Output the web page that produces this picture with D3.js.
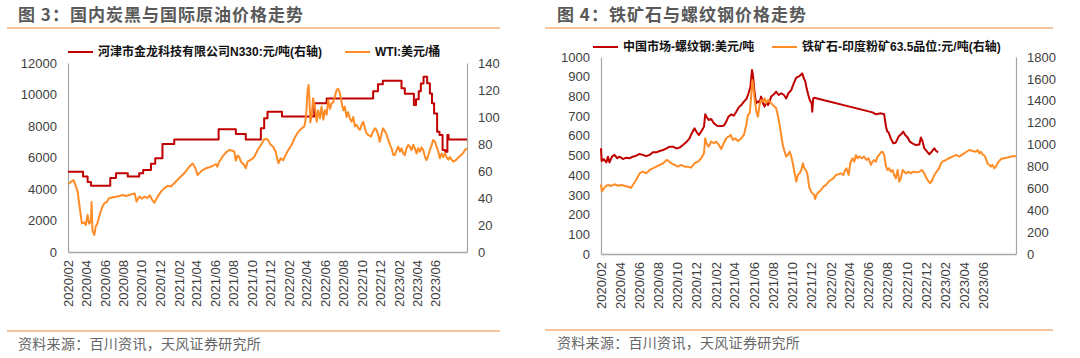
<!DOCTYPE html>
<html><head><meta charset="utf-8">
<script src="https://cdn.jsdelivr.net/npm/d3@7"></script>
<style>body{margin:0;background:#fff}svg{display:block}</style>
</head><body>
<svg id="c" width="1080" height="358"></svg>
<script>
// ---------- data ----------
const xTickLabels = ["2020/02","2020/04","2020/06","2020/08","2020/10","2020/12","2021/02","2021/04","2021/06","2021/08","2021/10","2021/12","2022/02","2022/04","2022/06","2022/08","2022/10","2022/12","2023/02","2023/04","2023/06"];
const xDomain = ["2020-02-01","2023-09-15"];

const chart1Title = "图 3：国内炭黑与国际原油价格走势";
const chart2Title = "图 4：铁矿石与螺纹钢价格走势";
const sourceText = "资料来源：百川资讯，天风证券研究所";
const chart1Names = ["河津市金龙科技有限公司N330:元/吨(右轴)", "WTI:美元/桶"];
const chart2Names = ["中国市场-螺纹钢:美元/吨", "铁矿石-印度粉矿63.5品位:元/吨(右轴)"];

const chart1LeftTicks = [0,2000,4000,6000,8000,10000,12000];
const chart1RightTicks = [0,20,40,60,80,100,120,140];
const chart2LeftTicks = [0,100,200,300,400,500,600,700,800,900,1000];
const chart2RightTicks = [0,200,400,600,800,1000,1200,1400,1600,1800];

// N330 carbon black (drawn against left scale, step series)
const n330 = [["2020-02-01",5100],["2020-03-22",4800],["2020-04-06",4450],["2020-04-17",4200],["2020-06-20",4700],["2020-07-09",5000],["2020-08-17",4800],["2020-09-24",5000],["2020-10-07",5200],["2020-11-02",5600],["2020-11-16",5950],["2020-12-10",6850],["2021-01-18",7150],["2021-06-14",7800],["2021-08-10",7500],["2021-09-12",7150],["2021-11-01",7850],["2021-11-12",8500],["2021-11-23",8900],["2022-01-10",8600],["2022-04-27",9450],["2022-06-07",9750],["2022-11-08",10200],["2022-11-24",10650],["2022-12-10",10880],["2023-02-10",10400],["2023-02-21",10050],["2023-03-23",9330],["2023-03-30",9700],["2023-04-08",10200],["2023-04-15",10700],["2023-04-24",11130],["2023-05-06",10710],["2023-05-15",10070],["2023-05-22",9440],["2023-05-29",8800],["2023-06-08",7640],["2023-06-16",7430],["2023-06-26",6480],["2023-07-05",6370],["2023-07-12",7430],["2023-07-16",7150],["2023-09-15",7150]];

// WTI (right scale)
const wti = [["2020-02-03",50.4],["2020-02-11",52],["2020-02-19",53.3],["2020-02-25",50],["2020-03-04",44.7],["2020-03-09",36],["2020-03-15",26],["2020-03-18",21.2],["2020-03-26",22],["2020-03-31",20],["2020-04-06",27.4],["2020-04-11",21],["2020-04-17",23],["2020-04-19",37],["2020-04-22",16],["2020-04-28",12.6],["2020-05-03",19],["2020-05-08",21],["2020-05-14",26],["2020-05-19",29.9],["2020-05-25",33.6],["2020-05-31",36],["2020-06-08",37],["2020-06-16",39.8],["2020-06-28",40.5],["2020-07-09",41],["2020-07-20",41.5],["2020-07-31",42.2],["2020-08-11",41.5],["2020-08-22",42.2],["2020-09-02",43],["2020-09-09",43.4],["2020-09-15",37.3],["2020-09-24",41],["2020-10-03",39.5],["2020-10-11",41],["2020-10-22",40],["2020-10-29",42],["2020-11-05",39],["2020-11-13",36.5],["2020-11-24",41],["2020-12-05",44.7],["2020-12-16",47.2],["2020-12-27",49],["2021-01-07",48.5],["2021-01-18",50.9],["2021-02-03",54.6],["2021-02-20",58.3],["2021-03-09",63.2],["2021-03-20",65.6],["2021-03-29",62],["2021-04-05",57],["2021-04-13",58.8],["2021-04-22",60.7],["2021-05-03",62],["2021-05-14",62.8],["2021-05-25",63.7],["2021-06-05",65.2],["2021-06-10",63.2],["2021-06-16",66.9],["2021-06-27",70.6],["2021-07-08",73.6],["2021-07-19",75.5],["2021-07-30",75],["2021-08-05",74.3],["2021-08-10",67.7],["2021-08-16",71.4],["2021-08-21",70.4],["2021-08-27",66.9],["2021-09-07",64.4],["2021-09-12",62],["2021-09-18",66.9],["2021-09-29",68.4],["2021-10-10",70.4],["2021-10-21",75.5],["2021-11-01",79.3],["2021-11-12",83.5],["2021-11-21",83.7],["2021-11-26",82.5],["2021-12-03",79.5],["2021-12-12",78],["2021-12-20",74.3],["2021-12-29",65.7],["2022-01-06",69.4],["2022-01-14",68],["2022-01-22",71.8],["2022-01-31",75.5],["2022-02-11",79.3],["2022-02-22",85],["2022-03-05",89],["2022-03-16",91.6],["2022-03-25",93],["2022-03-29",97.8],["2022-04-01",105],["2022-04-05",120],["2022-04-08",123.7],["2022-04-11",112.6],["2022-04-14",96],["2022-04-19",102],["2022-04-23",113.8],["2022-04-29",107.7],["2022-05-05",96.5],["2022-05-10",105],["2022-05-16",99],["2022-05-21",107.7],["2022-05-27",98],["2022-06-01",105],["2022-06-07",101.7],["2022-06-12",112.6],["2022-06-18",106],["2022-06-23",110],["2022-06-29",111],["2022-07-04",115],["2022-07-10",120],["2022-07-15",121],["2022-07-21",117.5],["2022-07-26",111.4],["2022-08-01",105],["2022-08-06",107.7],["2022-08-12",100],["2022-08-17",103.5],["2022-08-23",99],["2022-08-29",96.5],["2022-09-03",100],["2022-09-09",93],["2022-09-14",94.3],["2022-09-20",91.6],["2022-09-25",90.5],["2022-10-01",94.3],["2022-10-06",96.5],["2022-10-12",91.6],["2022-10-17",88],["2022-10-23",86.7],["2022-11-01",85.5],["2022-11-08",89.5],["2022-11-14",91.6],["2022-11-19",90.5],["2022-11-25",86.7],["2022-11-30",81.7],["2022-12-06",88],["2022-12-11",91.6],["2022-12-17",89.5],["2022-12-23",86.7],["2022-12-28",83],["2023-01-03",79.3],["2023-01-08",76.8],["2023-01-14",71.8],["2023-01-19",71.8],["2023-01-25",75.5],["2023-01-30",78],["2023-02-05",74.3],["2023-02-10",76.8],["2023-02-16",73],["2023-02-21",71.8],["2023-02-27",76.8],["2023-03-04",79.3],["2023-03-10",78],["2023-03-15",75.5],["2023-03-21",79.3],["2023-03-26",76.8],["2023-04-01",73],["2023-04-06",76.8],["2023-04-12",74.3],["2023-04-17",77.5],["2023-04-23",75.5],["2023-04-29",70.4],["2023-05-04",68],["2023-05-10",71.8],["2023-05-15",75.5],["2023-05-21",79.3],["2023-05-26",83],["2023-06-01",81.7],["2023-06-06",78],["2023-06-12",74.3],["2023-06-17",69.4],["2023-06-23",73],["2023-06-28",70.4],["2023-07-04",73],["2023-07-09",70.4],["2023-07-15",68.4],["2023-07-20",70.4],["2023-07-26",68.4],["2023-07-31",66.9],["2023-08-06",67.7],["2023-08-11",68.4],["2023-08-17",70],["2023-08-22",71],["2023-08-28",72.2],["2023-09-03",73.5],["2023-09-08",75.5],["2023-09-15",76.8]];

// Rebar, USD/t (left scale)
const rebar = [["2020-02-01",537],["2020-02-03",472],["2020-02-10",482],["2020-02-18",465],["2020-02-23",494],["2020-02-28",465],["2020-03-07",494],["2020-03-15",503],["2020-03-24",486],["2020-03-31",494],["2020-04-11",482],["2020-04-21",489],["2020-05-02",486],["2020-05-12",494],["2020-05-23",499],["2020-06-03",508],["2020-06-13",503],["2020-06-24",497],["2020-07-05",503],["2020-07-15",516],["2020-07-26",516],["2020-08-06",523],["2020-08-17",528],["2020-08-28",536],["2020-09-06",545],["2020-09-17",545],["2020-09-28",536],["2020-10-08",540],["2020-10-19",553],["2020-10-29",567],["2020-11-09",587],["2020-11-16",612],["2020-11-25",638],["2020-12-02",618],["2020-12-09",604],["2020-12-16",621],["2020-12-25",646],["2020-12-29",709],["2021-01-02",697],["2021-01-09",680],["2021-01-17",685],["2021-01-26",663],["2021-02-05",651],["2021-02-16",650],["2021-02-26",651],["2021-03-06",672],["2021-03-13",697],["2021-03-22",709],["2021-03-30",702],["2021-04-07",722],["2021-04-14",743],["2021-04-23",756],["2021-05-01",773],["2021-05-09",786],["2021-05-16",816],["2021-05-22",849],["2021-05-27",934],["2021-05-30",909],["2021-06-04",824],["2021-06-09",765],["2021-06-15",775],["2021-06-20",768],["2021-06-25",799],["2021-07-01",765],["2021-07-06",748],["2021-07-11",773],["2021-07-17",756],["2021-07-22",773],["2021-07-27",799],["2021-08-05",811],["2021-08-12",824],["2021-08-20",807],["2021-08-28",816],["2021-09-06",807],["2021-09-13",790],["2021-09-20",816],["2021-09-29",832],["2021-10-07",866],["2021-10-15",895],["2021-10-22",900],["2021-10-29",909],["2021-11-03",917],["2021-11-08",892],["2021-11-13",875],["2021-11-17",841],["2021-11-22",810],["2021-11-27",782],["2021-12-03",765],["2021-12-05",722],["2021-12-08",790],["2021-12-11",793],["2022-06-15",719],["2022-06-26",709],["2022-07-12",714],["2022-07-22",709],["2022-07-28",646],["2022-08-01",621],["2022-08-05",618],["2022-08-12",587],["2022-08-20",562],["2022-08-28",565],["2022-09-06",596],["2022-09-13",606],["2022-09-21",621],["2022-09-27",604],["2022-10-05",591],["2022-10-12",570],["2022-10-20",562],["2022-10-31",553],["2022-11-11",556],["2022-11-16",591],["2022-11-21",574],["2022-11-27",536],["2022-12-04",523],["2022-12-13",506],["2022-12-20",519],["2022-12-29",536],["2023-01-03",524],["2023-01-10",516]];

// Iron ore, India fines 63.5%, CNY/t (right scale)
const ironOre = [["2020-02-01",637],["2020-02-04",570],["2020-02-10",600],["2020-02-18",624],["2020-02-25",630],["2020-03-04",621],["2020-03-15",637],["2020-03-26",624],["2020-04-05",630],["2020-04-16",624],["2020-04-27",615],["2020-05-07",606],["2020-05-16",646],["2020-05-23",676],["2020-06-03",737],["2020-06-13",752],["2020-06-24",737],["2020-07-05",768],["2020-07-15",783],["2020-07-26",798],["2020-08-06",814],["2020-08-17",829],["2020-08-28",859],["2020-09-03",850],["2020-09-12",829],["2020-09-22",814],["2020-10-03",798],["2020-10-13",814],["2020-10-24",798],["2020-11-04",798],["2020-11-14",789],["2020-11-25",829],["2020-12-06",844],["2020-12-16",875],["2020-12-25",920],["2020-12-29",1058],["2021-01-02",1012],["2021-01-09",981],["2021-01-17",1027],["2021-01-26",1012],["2021-02-02",1027],["2021-02-09",1003],["2021-02-18",960],["2021-02-26",1012],["2021-03-06",1058],["2021-03-13",1072],["2021-03-20",1088],["2021-03-27",1042],["2021-04-03",1058],["2021-04-12",1033],["2021-04-23",1058],["2021-05-01",1088],["2021-05-09",1179],["2021-05-14",1271],["2021-05-20",1286],["2021-05-24",1423],["2021-05-28",1590],["2021-05-31",1545],["2021-06-04",1423],["2021-06-10",1301],["2021-06-15",1255],["2021-06-20",1362],["2021-06-25",1408],["2021-07-01",1393],["2021-07-06",1423],["2021-07-11",1378],["2021-07-17",1408],["2021-07-22",1393],["2021-07-27",1378],["2021-08-01",1362],["2021-08-07",1347],["2021-08-12",1332],["2021-08-17",1271],["2021-08-23",1179],["2021-08-28",1088],["2021-09-02",996],["2021-09-08",935],["2021-09-13",890],["2021-09-18",905],["2021-09-24",935],["2021-09-29",890],["2021-10-04",829],["2021-10-10",737],["2021-10-15",661],["2021-10-20",722],["2021-10-26",737],["2021-10-31",768],["2021-11-05",829],["2021-11-10",783],["2021-11-16",760],["2021-11-20",722],["2021-11-25",615],["2021-12-01",570],["2021-12-06",554],["2021-12-11",539],["2021-12-14",503],["2021-12-19",545],["2021-12-25",564],["2022-01-02",585],["2022-01-09",615],["2022-01-17",630],["2022-01-26",661],["2022-02-02",676],["2022-02-10",691],["2022-02-18",722],["2022-02-27",728],["2022-03-06",737],["2022-03-14",722],["2022-03-20",768],["2022-03-24",783],["2022-03-31",722],["2022-04-05",829],["2022-04-12",875],["2022-04-18",844],["2022-04-23",905],["2022-04-28",875],["2022-05-04",890],["2022-05-12",875],["2022-05-19",890],["2022-05-27",859],["2022-06-02",875],["2022-06-10",814],["2022-06-15",844],["2022-06-20",859],["2022-06-26",844],["2022-07-01",890],["2022-07-06",905],["2022-07-12",930],["2022-07-17",935],["2022-07-22",905],["2022-07-28",798],["2022-08-02",768],["2022-08-07",783],["2022-08-12",752],["2022-08-18",768],["2022-08-23",722],["2022-08-28",691],["2022-09-03",768],["2022-09-08",661],["2022-09-13",691],["2022-09-19",768],["2022-09-24",752],["2022-09-29",737],["2022-10-08",752],["2022-10-15",737],["2022-10-23",752],["2022-10-31",746],["2022-11-11",752],["2022-11-19",768],["2022-11-27",737],["2022-12-04",691],["2022-12-10",667],["2022-12-15",646],["2022-12-21",667],["2022-12-29",722],["2023-01-05",752],["2023-01-13",783],["2023-01-19",829],["2023-01-24",844],["2023-02-04",859],["2023-02-14",875],["2023-02-25",890],["2023-03-08",905],["2023-03-18",890],["2023-03-29",911],["2023-04-08",930],["2023-04-19",950],["2023-04-30",941],["2023-05-10",935],["2023-05-16",950],["2023-05-21",920],["2023-05-26",935],["2023-05-31",911],["2023-06-06",899],["2023-06-11",875],["2023-06-16",829],["2023-06-22",814],["2023-06-27",798],["2023-07-02",814],["2023-07-08",783],["2023-07-13",798],["2023-07-18",829],["2023-07-24",850],["2023-07-29",868],["2023-08-08",875],["2023-08-19",881],["2023-08-30",890],["2023-09-09",896],["2023-09-15",890]];

// ---------- drawing ----------
const RED = "#C00000", ORANGE = "#FF8C26", RULE = "#F7B07A";
const parse = d3.timeParse("%Y-%m-%d");
const tickParse = d3.timeParse("%Y/%m");
const svg = d3.select("#c");
const NUM_FONT = "'Liberation Sans', Arial, sans-serif";
const CJK_FONT = "'Liberation Sans','Noto Sans CJK SC', sans-serif";

function panel(cfg) {
  const g = svg.append("g");
  // title
  g.append("text").attr("x", cfg.titleX).attr("y", 21).text(cfg.title)
    .attr("font-family", "'Noto Sans CJK SC', sans-serif").attr("font-weight", "bold")
    .attr("font-size", 17).attr("letter-spacing", "1px").attr("fill", "#595959");
  g.append("line").attr("x1", cfg.ruleX[0]).attr("x2", cfg.ruleX[1]).attr("y1", 28).attr("y2", 28)
    .attr("stroke", RULE).attr("stroke-width", 1.5);
  g.append("line").attr("x1", cfg.ruleX[0]).attr("x2", cfg.ruleX[1]).attr("y1", cfg.footY).attr("y2", cfg.footY)
    .attr("stroke", RULE).attr("stroke-width", 1.5);
  g.append("text").attr("x", cfg.titleX).attr("y", cfg.footY + 18).text(sourceText)
    .attr("font-family", "'Noto Sans CJK SC', sans-serif").attr("font-size", 14)
    .attr("letter-spacing", "0.3px").attr("fill", "#666");

  const x = d3.scaleTime().domain(xDomain.map(parse)).range([cfg.left, cfg.right]);
  const yL = d3.scaleLinear().domain(d3.extent(cfg.leftTicks)).range([cfg.bottom, cfg.top]);
  const yR = d3.scaleLinear().domain(d3.extent(cfg.rightTicks)).range([cfg.bottom, cfg.top]);

  const styleAxis = (sel, sw) => {
    sel.selectAll("text").attr("font-family", NUM_FONT).attr("font-size", 13).attr("fill", "#404040");
    sel.select(".domain").attr("stroke", "#A6A6A6").attr("stroke-width", sw);
  };
  g.append("g").attr("transform", `translate(${cfg.left},0)`)
    .call(d3.axisLeft(yL).tickValues(cfg.leftTicks).tickFormat(d3.format("d")).tickSize(0).tickPadding(11))
    .call(s => styleAxis(s, 1.2));
  g.append("g").attr("transform", `translate(${cfg.right},0)`)
    .call(d3.axisRight(yR).tickValues(cfg.rightTicks).tickFormat(d3.format("d")).tickSize(0).tickPadding(11))
    .call(s => styleAxis(s, 1.2));
  const xa = g.append("g").attr("transform", `translate(0,${cfg.bottom})`)
    .call(d3.axisBottom(x).tickValues(xTickLabels.map(tickParse)).tickFormat(d3.timeFormat("%Y/%m")).tickSize(0))
    .call(s => styleAxis(s, 1.5));
  xa.selectAll("text").attr("transform", "rotate(-90)").attr("x", -8).attr("y", 0)
    .attr("dy", "0.35em").attr("text-anchor", "end");

  // series
  cfg.series.forEach(s => {
    const y = s.axis === "left" ? yL : yR;
    g.append("path").datum(s.data)
      .attr("fill", "none").attr("stroke", s.color).attr("stroke-width", 2)
      .attr("stroke-linejoin", "round")
      .attr("d", d3.line().curve(s.curve || d3.curveLinear).x(d => x(parse(d[0]))).y(d => y(d[1])));
  });

  // legend
  cfg.legend.forEach(l => {
    g.append("line").attr("x1", l.x).attr("x2", l.x + 25).attr("y1", cfg.legendY).attr("y2", cfg.legendY)
      .attr("stroke", l.color).attr("stroke-width", 2);
    g.append("text").attr("x", l.x + 30).attr("y", cfg.legendY).attr("dy", "0.36em").text(l.name)
      .attr("font-family", CJK_FONT).attr("font-size", 12).attr("font-weight", "bold").attr("fill", "#111");
  });
}

panel({
  title: chart1Title, titleX: 18, ruleX: [7, 500], footY: 331,
  left: 68, right: 467, top: 63, bottom: 252,
  leftTicks: chart1LeftTicks, rightTicks: chart1RightTicks,
  legendY: 52,
  legend: [{x: 68, color: RED, name: chart1Names[0]}, {x: 345, color: ORANGE, name: chart1Names[1]}],
  series: [
    {data: n330, axis: "left", color: RED, curve: d3.curveStepAfter},
    {data: wti, axis: "right", color: ORANGE}
  ]
});
panel({
  title: chart2Title, titleX: 557, ruleX: [545, 1053], footY: 330,
  left: 601, right: 1016, top: 57, bottom: 254,
  leftTicks: chart2LeftTicks, rightTicks: chart2RightTicks,
  legendY: 47,
  legend: [{x: 593, color: RED, name: chart2Names[0]}, {x: 772, color: ORANGE, name: chart2Names[1]}],
  series: [
    {data: rebar, axis: "left", color: RED},
    {data: ironOre, axis: "right", color: ORANGE}
  ]
});
</script>
</body></html>
